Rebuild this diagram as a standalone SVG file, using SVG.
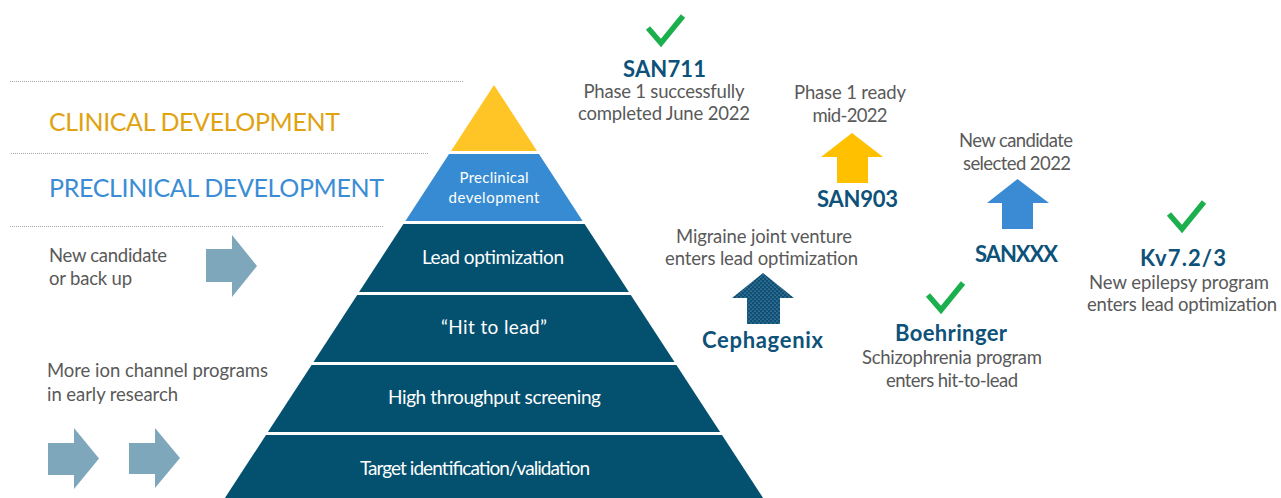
<svg xmlns="http://www.w3.org/2000/svg" width="1281" height="498" viewBox="0 0 1281 498">
  <style>
    text { font-family: Lato, "Open Sans", "Liberation Sans", sans-serif; }
    .head { font-size: 25px; }
    .clin { fill: #E0A310; }
    .precl { fill: #3A8DD5; }
    .gray { font-size: 18.5px; fill: #595959; }
    .name { font-size: 22px; font-weight: 700; fill: #0E5279; text-anchor: middle; }
    .mid { text-anchor: middle; }
    .layer { font-size: 19px; fill: #FFFFFF; text-anchor: middle; }
    .small { font-size: 15px; }
    .rule { stroke: #A6A6A6; stroke-width: 1; stroke-dasharray: 1 1; fill: none; }
    .navy { fill: #03506F; }
    .feed { fill: #7FA7BC; }
    .check { fill: none; stroke: #1CAF4D; stroke-width: 5.5; stroke-linejoin: miter; stroke-linecap: butt; }
  </style>
  <defs>
    <path id="tick" d="M3,15 L16,30 L38,3"/>
    <pattern id="dots" width="4" height="4" patternUnits="userSpaceOnUse">
      <rect width="4" height="4" fill="#0D5077"/>
      <circle cx="1" cy="1" r="0.5" fill="#FFFFFF" fill-opacity="0.7"/>
      <circle cx="3" cy="3" r="0.5" fill="#FFFFFF" fill-opacity="0.7"/>
    </pattern>
  </defs>

  <rect width="1281" height="498" fill="#FFFFFF"/>

  <!-- dotted separator rules -->
  <g id="rules">
    <line class="rule" x1="10" y1="81.5" x2="463" y2="81.5"/>
    <line class="rule" x1="11" y1="153.5" x2="428" y2="153.5"/>
    <line class="rule" x1="10" y1="226.5" x2="383" y2="226.5"/>
  </g>

  <!-- stage headings -->
  <g id="stage-clinical">
    <text class="head clin" x="49" y="131" textLength="291" lengthAdjust="spacing">CLINICAL DEVELOPMENT</text>
  </g>
  <g id="stage-preclinical">
    <text class="head precl" x="49" y="197" textLength="335" lengthAdjust="spacing">PRECLINICAL DEVELOPMENT</text>
  </g>

  <!-- pyramid -->
  <g id="pyramid-clinical">
    <polygon points="494,85 537,151 451,151" fill="#FFC527"/>
  </g>
  <g id="pyramid-preclinical">
    <polygon points="449.05,154 538.95,154 582.6,221 405.4,221" fill="#378BD2"/>
    <text class="layer small" x="494" y="183" textLength="69">Preclinical</text>
    <text class="layer small" x="494" y="203" textLength="91">development</text>
  </g>
  <g id="pyramid-lead">
    <polygon class="navy" points="403.4,224 584.6,224 628.9,292 359.1,292"/>
    <text class="layer" x="493" y="264" textLength="142">Lead optimization</text>
  </g>
  <g id="pyramid-hit">
    <polygon class="navy" points="357.2,295 630.8,295 674.5,362 313.5,362"/>
    <text class="layer" x="494" y="334" textLength="106">“Hit to lead”</text>
  </g>
  <g id="pyramid-hts">
    <polygon class="navy" points="311.6,365 676.4,365 720.1,432 267.9,432"/>
    <text class="layer" x="494.5" y="404" textLength="213">High throughput screening</text>
  </g>
  <g id="pyramid-target">
    <polygon class="navy" points="266,435 722,435 763.1,498 224.9,498"/>
    <text class="layer" x="475" y="475" textLength="230">Target identification/validation</text>
  </g>

  <!-- feeder notes on the left -->
  <g id="note-backup">
    <text class="gray" x="49" y="262" textLength="118">New candidate</text>
    <text class="gray" x="49" y="285" textLength="83">or back up</text>
  </g>
  <g id="note-research">
    <text class="gray" x="47" y="377" textLength="221">More ion channel programs</text>
    <text class="gray" x="47" y="401" textLength="131">in early research</text>
  </g>

  <!-- programme notes on the right -->
  <g id="san711">
    <use href="#tick" class="check" transform="translate(645,13)"/>
    <text class="name" x="664.5" y="77" textLength="83">SAN711</text>
    <text class="gray mid" x="664" y="98" textLength="161">Phase 1 successfully</text>
    <text class="gray mid" x="664" y="120" textLength="172">completed June 2022</text>
  </g>
  <g id="san903">
    <text class="gray mid" x="850" y="99" textLength="112">Phase 1 ready</text>
    <text class="gray mid" x="850" y="122" textLength="75">mid-2022</text>
    <text class="name" x="857.5" y="207" textLength="81">SAN903</text>
  </g>
  <g id="sanxxx">
    <text class="gray mid" x="1016" y="147" textLength="114">New candidate</text>
    <text class="gray mid" x="1017" y="170" textLength="108">selected 2022</text>
    <text class="name" x="1016.5" y="262" textLength="83">SANXXX</text>
  </g>
  <g id="kv723">
    <use href="#tick" class="check" transform="translate(1166,199)"/>
    <text class="name" x="1183" y="266" textLength="86">Kv7.2/3</text>
    <text class="gray mid" x="1179" y="289" textLength="180">New epilepsy program</text>
    <text class="gray mid" x="1182" y="311" textLength="190">enters lead optimization</text>
  </g>
  <g id="boehringer">
    <use href="#tick" class="check" transform="translate(925,280)"/>
    <text class="name" x="951" y="341" textLength="112">Boehringer</text>
    <text class="gray mid" x="952" y="364" textLength="180">Schizophrenia program</text>
    <text class="gray mid" x="952" y="387" textLength="132">enters hit-to-lead</text>
  </g>
  <g id="cephagenix">
    <text class="gray mid" x="764" y="243" textLength="176">Migraine joint venture</text>
    <text class="gray mid" x="761.5" y="265" textLength="193">enters lead optimization</text>
    <text class="name" x="762.5" y="348" textLength="121">Cephagenix</text>
  </g>

  <!-- arrows -->
  <g id="connectors">
    <polygon class="feed" points="206,249 232,249 232,235 257,266 232,297 232,282 206,282"/>
    <polygon class="feed" points="48,443 74,443 74,428 99,458.5 74,489 74,475 48,475"/>
    <polygon class="feed" points="129,443 155,443 155,428 180,458 155,488 155,474 129,474"/>
    <polygon fill="#FFC000" points="852,133 883,157 868,157 868,183 837,183 837,157 821,157"/>
    <polygon fill="#3A8BD3" points="1017.5,179 1049,203 1033,203 1033,229 1002,229 1002,203 987,203"/>
    <polygon fill="url(#dots)" points="763,273 794,298 780,298 780,324 747,324 747,298 732,298"/>
  </g>
</svg>
